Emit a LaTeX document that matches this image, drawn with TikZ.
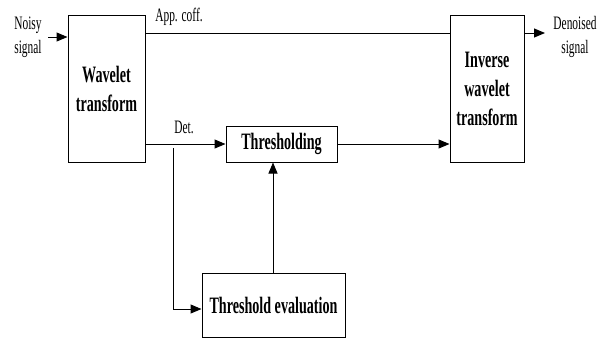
\documentclass[tikz,border=0pt]{standalone}
\usepackage{fontspec}
\setmainfont{Liberation Serif}[FakeStretch=0.6]
\usetikzlibrary{arrows.meta}
\begin{document}
\begin{tikzpicture}[x=1pt,y=-1pt,
  blk/.style={draw,line width=1pt,inner sep=0pt,align=center,
    font=\bfseries\fontsize{23.5}{29}\selectfont},
  lbl/.style={inner sep=0pt,align=center,font=\fontsize{19}{24}\selectfont},
  conn/.style={line width=1pt},
  arr/.style={conn,-{Triangle[length=11pt,width=9pt]}}]
\useasboundingbox (0,0) rectangle (609,338);
\node[blk,minimum width=77pt,minimum height=147pt] (wt) at (106.5,88.5) {Wavelet\\transform};
\node[blk,minimum width=74pt,minimum height=147pt] (iwt) at (487,88.5) {Inverse\\wavelet\\transform};
\node[blk,minimum width=111pt,minimum height=36pt] (th) at (281.5,144) {Thresholding};
\node[blk,minimum width=143pt,minimum height=64pt] (te) at (273.5,305) {Threshold evaluation};
\node[lbl] (ns) at (28,37) {Noisy\\signal};
\node[lbl] (ds) at (575,37) {Denoised\\signal};
\node[lbl] (app) at (179,17) {App. coff.};
\node[lbl] (det) at (184,127) {Det.};
\coordinate (in) at (48,37);
\coordinate (out) at (545,33);
\coordinate (br) at (173,148);
\coordinate (brc) at (173,309);
\draw[arr] (in) -- (wt.west |- in);
\draw[conn] (wt.east |- 0,33) -- (iwt.west |- 0,33);
\draw[arr] (iwt.east |- out) -- (out);
\draw[arr] (wt.east |- th.west) -- (th.west);
\draw[arr] (th.east) -- (iwt.west |- th.east);
\draw[arr] (br) -- (brc) -- (te.west |- brc);
\draw[arr] (te.north -| 273,0) -- (th.south -| 273,0);
\end{tikzpicture}
\end{document}
